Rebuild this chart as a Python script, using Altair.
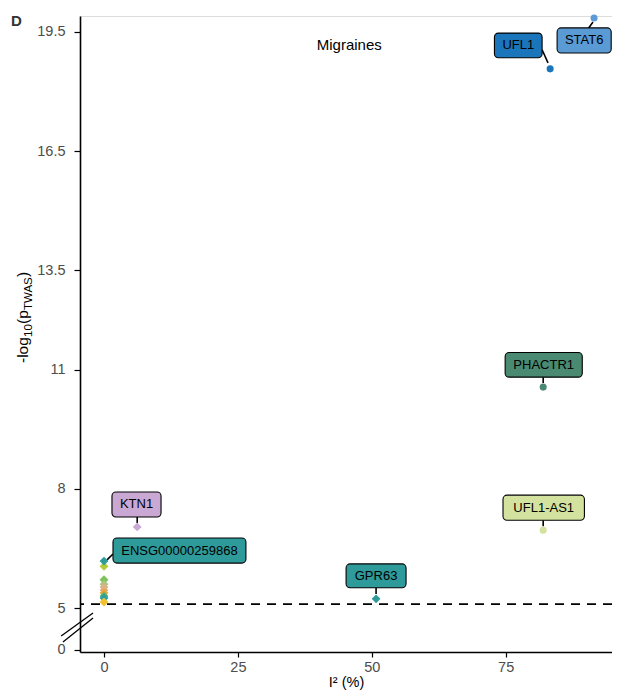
import altair as alt
import pandas as pd

FONT = "Liberation Sans"

# ---- labelled genes ----
genes = ["STAT6", "UFL1", "PHACTR1", "UFL1-AS1", "GPR63", "KTN1", "ENSG00000259868"]
gene_i2 = [91.5, 83.3, 82.0, 82.0, 50.8, 6.2, 0.0]
gene_logp = [19.85, 18.57, 10.56, 6.96, 5.23, 7.04, 6.18]
gene_shape = ["circle", "circle", "circle", "circle", "diamond", "diamond", "diamond"]
gene_color = ["#5b9bd5", "#1b75bb", "#4a8a72", "#d3e29f", "#2e9a9a", "#c9a9d3", "#2e9a9a"]

# ---- unlabelled significant genes (I2 = 0) ----
other_i2 = [0, 0, 0, 0, 0, 0, 0, 0, 0]
other_logp = [6.05, 5.71, 5.60, 5.53, 5.45, 5.38, 5.30, 5.25, 5.15]
other_color = ["#b3cc3a", "#7dc35b", "#a5c77a", "#d9b48c", "#e2ae7a",
               "#eaa43e", "#55b36a", "#2aa0a0", "#f2c12e"]

threshold = 5.1

# ---- repelled label boxes (data units) ----
lab_x0 = [84.6, 72.9, 74.9, 74.5, 45.2, 1.49, 1.68]
lab_x1 = [94.7, 81.8, 89.3, 89.7, 56.4, 10.65, 26.5]
lab_y0 = [18.97, 18.85, 10.81, 7.21, 5.51, 7.29, 6.13]
lab_y1 = [19.60, 19.47, 11.43, 7.84, 6.11, 7.92, 6.76]
seg_x0 = [90.5, 81.8, 82.0, 82.0, 50.8, 6.2, 1.68]
seg_y0 = [19.60, 19.05, 10.81, 7.21, 5.51, 7.29, 6.36]
seg_x1 = [91.3, 82.9, 82.0, 82.0, 50.8, 6.2, 0.56]
seg_y1 = [19.75, 18.72, 10.66, 7.06, 5.35, 7.14, 6.21]

# axis-break marks
brk_x0 = [-8.0, -7.66]
brk_y0 = [1.66, 0.94]
brk_x1 = [-2.05, -2.05]
brk_y1 = [4.40, 3.81]

x_ticks = [0, 25, 50, 75]
y_ticks = [0, 5, 8, 11, 13.5, 16.5, 19.5]

W, H = 532, 636

pts = pd.DataFrame({
    "i2": gene_i2 + other_i2,
    "logp": gene_logp + other_logp,
    "shape": gene_shape + ["diamond"] * len(other_i2),
    "color": gene_color + other_color,
})
pts["size"] = pts["shape"].map({"circle": 50, "diamond": 78})
# draw unlabelled first
pts = pd.concat([pts.iloc[len(genes):], pts.iloc[:len(genes)]])

labs = pd.DataFrame({
    "gene": genes, "color": gene_color,
    "x0": lab_x0, "x1": lab_x1, "y0": lab_y0, "y1": lab_y1,
    "sx0": seg_x0, "sy0": seg_y0, "sx1": seg_x1, "sy1": seg_y1,
})
labs["cx"] = (labs["x0"] + labs["x1"]) / 2
labs["cy"] = (labs["y0"] + labs["y1"]) / 2

brk = pd.DataFrame({"x0": brk_x0, "y0": brk_y0, "x1": brk_x1, "y1": brk_y1})

xs = alt.Scale(domain=[-4.48, 94.85], nice=False, zero=False)
ys = alt.Scale(domain=[-0.25, 5, 19.9], range=[H, 592, 0], nice=False, zero=False)

xaxis = alt.Axis(values=x_ticks, title="I² (%)", grid=False,
                 domainColor="black", domainWidth=1.6, tickColor="black",
                 tickWidth=1.2, tickSize=5, labelFontSize=14.5,
                 labelColor="#4d4d4d", labelPadding=3, labelFont=FONT,
                 titleFont=FONT, titleFontSize=14.5, titleFontWeight="normal",
                 titleColor="black", titlePadding=2)
yaxis = alt.Axis(values=y_ticks, labelExpr="'' + datum.value", title=None,
                 grid=False, domainColor="black", domainWidth=1.6,
                 tickColor="black", tickWidth=1.2, tickSize=6,
                 labelFontSize=14.5, labelColor="#4d4d4d", labelPadding=9,
                 labelFont=FONT)


def X(f):
    return alt.X(f, type="quantitative", scale=xs, axis=xaxis)


def Y(f):
    return alt.Y(f, type="quantitative", scale=ys, axis=yaxis)


thr = alt.Chart(pd.DataFrame({"t": [threshold]})).mark_rule(
    color="black", strokeWidth=1.8, strokeDash=[9, 7]
).encode(y=Y("t"))

breaks = alt.Chart(brk).mark_rule(color="black", strokeWidth=1.3).encode(
    x=X("x0"), y=Y("y0"), x2="x1", y2="y1")

segs = alt.Chart(labs).mark_rule(color="black", strokeWidth=1.6).encode(
    x=X("sx0"), y=Y("sy0"), x2="sx1", y2="sy1")

boxes = alt.Chart(labs).mark_rect(
    cornerRadius=4, stroke="black", strokeWidth=1.1
).encode(
    x=X("x0"), x2="x1", y=Y("y0"), y2="y1",
    fill=alt.Color("color:N", scale=None),
)

ltext = alt.Chart(labs).mark_text(
    font=FONT, fontSize=13, color="black", baseline="middle", align="center"
).encode(x=X("cx"), y=Y("cy"), text="gene:N")

points = alt.Chart(pts).mark_point(filled=True, opacity=1, strokeWidth=0).encode(
    x=X("i2"), y=Y("logp"),
    color=alt.Color("color:N", scale=None),
    shape=alt.Shape("shape:N", scale=None),
    size=alt.Size("size:Q", scale=None),
)

trait = alt.Chart(pd.DataFrame({"t": ["Migraines"], "x": [45.8], "y": [19.17]})).mark_text(
    font=FONT, fontSize=15, color="black", baseline="middle", align="center"
).encode(x=X("x"), y=Y("y"), text="t:N")

panel = alt.Chart(pd.DataFrame({"t": ["D"]})).mark_text(
    font=FONT, fontSize=15, fontWeight="bold", color="#333333",
    baseline="middle", align="center"
).encode(x=alt.value(-63.5), y=alt.value(4.5), text="t:N")

# y-axis title with subscripts, drawn as pieces
title_txt = ["-log", "10", "(p", "TWAS", ")"]
title_size = [15.5, 11.5, 15.5, 11.5, 15.5]
title_pos = [347, 321, 308, 294, 261]
title_base = [-52, -48.5, -52, -48.5, -52]
ytitle = []
for t, s, p, b in zip(title_txt, title_size, title_pos, title_base):
    ytitle.append(
        alt.Chart(pd.DataFrame({"t": [t]})).mark_text(
            font=FONT, fontSize=s, color="black", angle=270,
            align="left", baseline="alphabetic"
        ).encode(x=alt.value(b), y=alt.value(p), text="t:N")
    )

chart = alt.layer(thr, breaks, segs, boxes, ltext, points, trait, panel, *ytitle).properties(
    width=W, height=H,
    padding={"left": 72, "top": 8, "right": 0, "bottom": 38},
    autosize=alt.AutoSizeParams(type="none"),
).configure_view(stroke=None).configure(background="white")

chart.save("out.html", embed_options={"renderer": "svg", "actions": False})
